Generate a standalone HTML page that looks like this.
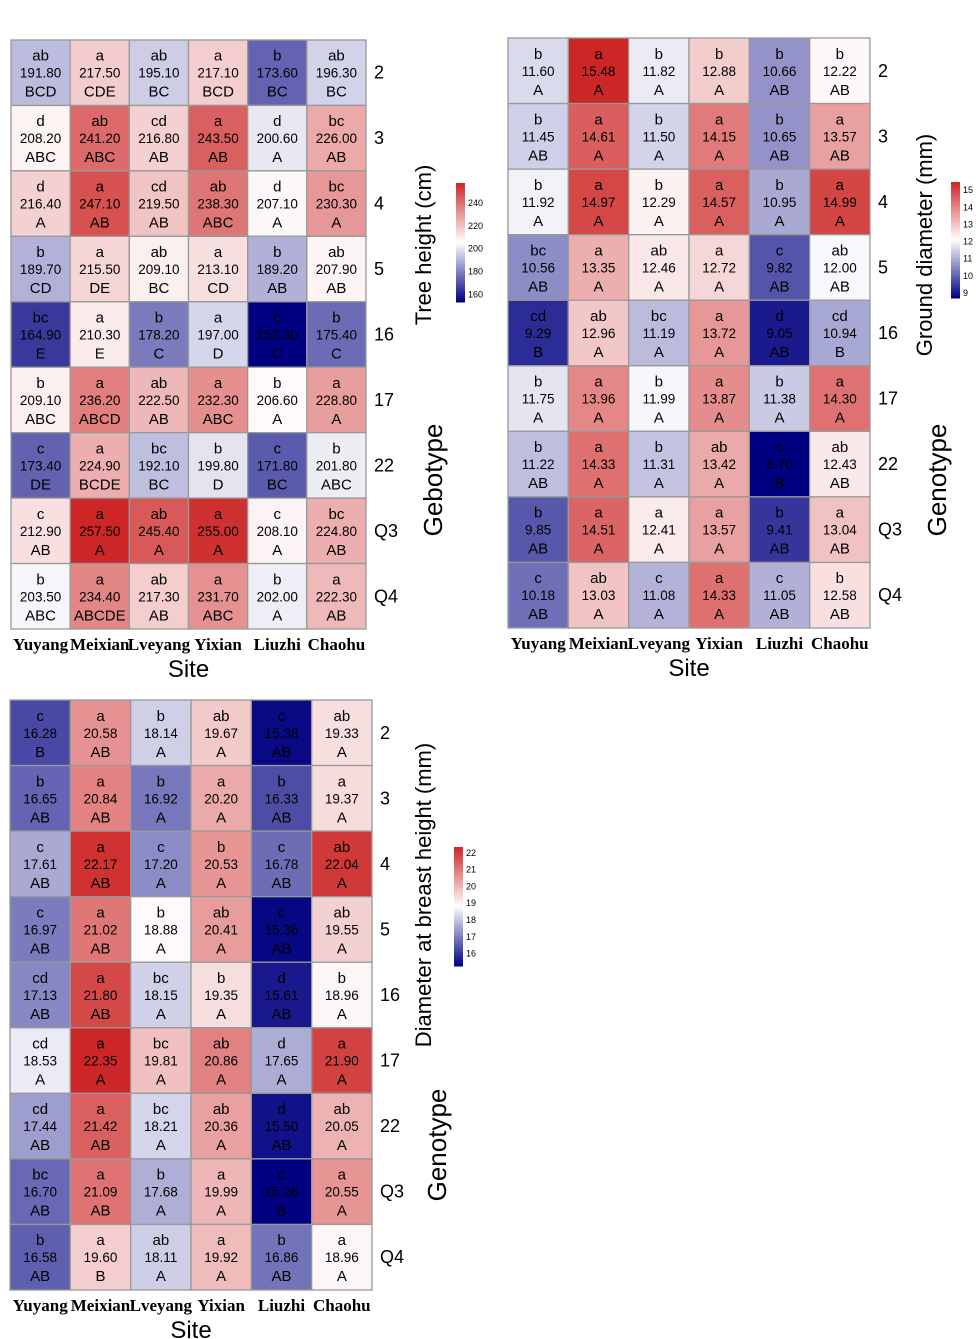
<!DOCTYPE html>
<html><head><meta charset="utf-8">
<style>
body{margin:0;background:#fff;}
svg{display:block;font-family:"Liberation Sans",Arial,sans-serif;}
</style></head>
<body>
<svg id="fig" width="976" height="1339" viewBox="0 0 976 1339" xmlns="http://www.w3.org/2000/svg"></svg>
<script>
const sites = ["Yuyang","Meixian","Lveyang","Yixian","Liuzhi","Chaohu"];
const genotypes = ["2","3","4","5","16","17","22","Q3","Q4"];

// Tree height
const heightValues = [
 [191.80,217.50,195.10,217.10,173.60,196.30],
 [208.20,241.20,216.80,243.50,200.60,226.00],
 [216.40,247.10,219.50,238.30,207.10,230.30],
 [189.70,215.50,209.10,213.10,189.20,207.90],
 [164.90,210.30,178.20,197.00,153.30,175.40],
 [209.10,236.20,222.50,232.30,206.60,228.80],
 [173.40,224.90,192.10,199.80,171.80,201.80],
 [212.90,257.50,245.40,255.00,208.10,224.80],
 [203.50,234.40,217.30,231.70,202.00,222.30]];
const heightLower = [
 ["ab","a","ab","a","b","ab"],["d","ab","cd","a","d","bc"],["d","a","cd","ab","d","bc"],
 ["b","a","ab","a","b","ab"],["bc","a","b","a","c","b"],["b","a","ab","a","b","a"],
 ["c","a","bc","b","c","b"],["c","a","ab","a","c","bc"],["b","a","ab","a","b","a"]];
const heightUpper = [
 ["BCD","CDE","BC","BCD","BC","BC"],["ABC","ABC","AB","AB","A","AB"],["A","AB","AB","ABC","A","A"],
 ["CD","DE","BC","CD","AB","AB"],["E","E","C","D","C","C"],["ABC","ABCD","AB","ABC","A","A"],
 ["DE","BCDE","BC","D","BC","ABC"],["AB","A","A","A","A","AB"],["ABC","ABCDE","AB","ABC","A","AB"]];
const heightTicks = [160,180,200,220,240];

// Ground diameter
const groundValues = [
 [11.60,15.48,11.82,12.88,10.66,12.22],
 [11.45,14.61,11.50,14.15,10.65,13.57],
 [11.92,14.97,12.29,14.57,10.95,14.99],
 [10.56,13.35,12.46,12.72,9.82,12.00],
 [9.29,12.96,11.19,13.72,9.05,10.94],
 [11.75,13.96,11.99,13.87,11.38,14.30],
 [11.22,14.33,11.31,13.42,8.70,12.43],
 [9.85,14.51,12.41,13.57,9.41,13.04],
 [10.18,13.03,11.08,14.33,11.05,12.58]];
const groundLower = [
 ["b","a","b","b","b","b"],["b","a","b","a","b","a"],["b","a","b","a","b","a"],
 ["bc","a","ab","a","c","ab"],["cd","ab","bc","a","d","cd"],["b","a","b","a","b","a"],
 ["b","a","b","ab","c","ab"],["b","a","a","a","b","a"],["c","ab","c","a","c","b"]];
const groundUpper = [
 ["A","A","A","A","AB","AB"],["AB","A","A","A","AB","AB"],["A","A","A","A","A","A"],
 ["AB","A","A","A","AB","AB"],["B","A","A","A","AB","B"],["A","A","A","A","A","A"],
 ["AB","A","A","A","B","AB"],["AB","A","A","A","AB","AB"],["AB","A","A","A","AB","AB"]];
const groundTicks = [9,10,11,12,13,14,15];

// DBH
const dbhValues = [
 [16.28,20.58,18.14,19.67,15.38,19.33],
 [16.65,20.84,16.92,20.20,16.33,19.37],
 [17.61,22.17,17.20,20.53,16.78,22.04],
 [16.97,21.02,18.88,20.41,15.36,19.55],
 [17.13,21.80,18.15,19.35,15.61,18.96],
 [18.53,22.35,19.81,20.86,17.65,21.90],
 [17.44,21.42,18.21,20.36,15.50,20.05],
 [16.70,21.09,17.68,19.99,15.26,20.55],
 [16.58,19.60,18.11,19.92,16.86,18.96]];
const dbhLower = [
 ["c","a","b","ab","c","ab"],["b","a","b","a","b","a"],["c","a","c","b","c","ab"],
 ["c","a","b","ab","c","ab"],["cd","a","bc","b","d","b"],["cd","a","bc","ab","d","a"],
 ["cd","a","bc","ab","d","ab"],["bc","a","b","a","c","a"],["b","a","ab","a","b","a"]];
const dbhUpper = [
 ["B","AB","A","A","AB","A"],["AB","AB","A","A","AB","A"],["AB","AB","A","A","AB","A"],
 ["AB","AB","A","A","AB","A"],["AB","AB","A","A","AB","A"],["A","A","A","A","A","A"],
 ["AB","AB","A","A","AB","A"],["AB","AB","A","A","B","A"],["AB","B","A","A","AB","A"]];
const dbhTicks = [16,17,18,19,20,21,22];

const NS = "http://www.w3.org/2000/svg";
const svg = document.getElementById("fig");
function mk(tag, attrs, parent){
  const e = document.createElementNS(NS, tag);
  for (const k in attrs) e.setAttribute(k, attrs[k]);
  (parent||svg).appendChild(e);
  return e;
}
function lerp(a,b,t){return Math.round(a+(b-a)*t);}
function colorFor(v, mn, mx){
  const mid=(mn+mx)/2;
  if (v<=mid){const t=(v-mn)/(mid-mn);return `rgb(${lerp(0,255,t)},${lerp(0,255,t)},${lerp(128,255,t)})`;}
  const t=(v-mid)/(mx-mid);return `rgb(${lerp(255,205,t)},${lerp(255,38,t)},${lerp(255,38,t)})`;
}

function drawHeatmap(cfg, values, lower, upper, ticks){
  const g = mk("g",{});
  
  
  const flat = values.flat();
  const mn = Math.min(...flat), mx = Math.max(...flat);
  const cw = (cfg.x1-cfg.x0)/sites.length, ch = (cfg.y1-cfg.y0)/genotypes.length;
  values.forEach((row,r)=>{
    row.forEach((v,c)=>{
      const x = cfg.x0+c*cw, y = cfg.y0+r*ch;
      const rect = mk("rect",{x:x,y:y,width:cw,height:ch,fill:colorFor(v,mn,mx),stroke:"#999","stroke-width":1.3},g);
      
      
      const lines=[lower[r][c], v.toFixed(2), upper[r][c]];
      lines.forEach((s,i)=>{
        const t = mk("text",{x:x+cw/2,y:y+ch/2+(i-1)*18+(i==1?5:6),"text-anchor":"middle","font-size":i==1?13.5:15,fill:"#000"},g);
        t.textContent=s;
        
        
      });
    });
  });
  genotypes.forEach((gname,r)=>{
    const t = mk("text",{x:cfg.x1+8,y:cfg.y0+r*ch+ch/2+6,"font-size":18},g);
    t.textContent=gname;
    
    
  });
  sites.forEach((s,c)=>{
    const t = mk("text",{x:cfg.x0+c*cw+cw/2,y:cfg.y1+21,"text-anchor":"middle","font-size":17,"font-weight":"bold","font-family":"Liberation Serif, serif"},g);
    t.textContent=s;
    
    
  });
  const st = mk("text",{x:(cfg.x0+cfg.x1)/2,y:cfg.y1+48,"text-anchor":"middle","font-size":24},g);
  st.textContent="Site";
  
  
  const vt = mk("text",{transform:`translate(${cfg.tx},${cfg.ty}) rotate(-90)`,"text-anchor":"middle","font-size":22},g);
  vt.textContent=cfg.title;
  
  
  const gt = mk("text",{transform:`translate(${cfg.gx},${cfg.gy}) rotate(-90)`,"text-anchor":"middle","font-size":26},g);
  gt.textContent=cfg.gtitle;
  
  
  const L = cfg.leg, steps=60;
  const lg = mk("g",{},g);
  
  
  for(let i=0;i<steps;i++){
    const v = mx-(mx-mn)*(i+0.5)/steps;
    mk("rect",{x:L.x,y:L.y0+(L.y1-L.y0)*i/steps,width:L.w,height:(L.y1-L.y0)/steps+0.5,fill:colorFor(v,mn,mx)},lg);
  }
  ticks.forEach(tv=>{
    const y = L.y1-(tv-mn)/(mx-mn)*(L.y1-L.y0);
    const t = mk("text",{x:L.x+L.w+3,y:y+3,"font-size":9},lg);
    t.textContent=tv;
    
    
  });
}

drawHeatmap({name:"tree-height-heatmap",x0:11,x1:366,y0:40,y1:629,title:"Tree height (cm)",tx:431,ty:245,gtitle:"Gebotype",gx:442,gy:480,leg:{x:456,w:9,y0:183,y1:302}},heightValues,heightLower,heightUpper,heightTicks);
drawHeatmap({name:"ground-diameter-heatmap",x0:508,x1:870,y0:38,y1:628,title:"Ground diameter (mm)",tx:932,ty:245,gtitle:"Genotype",gx:946,gy:480,leg:{x:951,w:9,y0:182,y1:298}},groundValues,groundLower,groundUpper,groundTicks);
drawHeatmap({name:"dbh-heatmap",x0:10,x1:372,y0:700,y1:1290,title:"Diameter at breast height (mm)",tx:431,ty:895,gtitle:"Genotype",gx:446,gy:1145,leg:{x:454,w:9,y0:847,y1:966}},dbhValues,dbhLower,dbhUpper,dbhTicks);
</script>
</body></html>
